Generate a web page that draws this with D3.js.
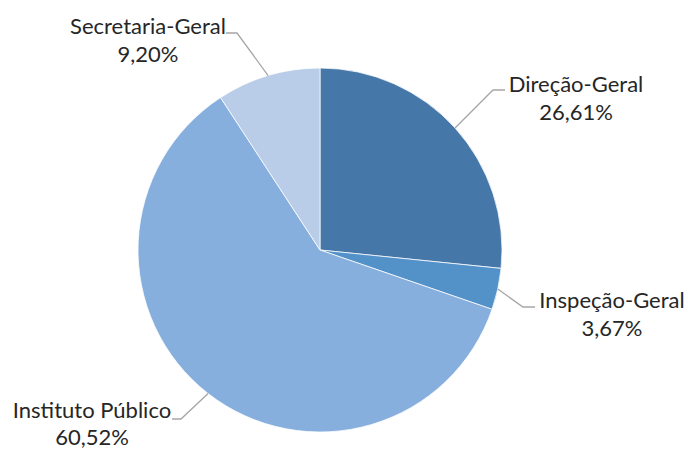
<!DOCTYPE html>
<html><head><meta charset="utf-8">
<script src="https://cdn.jsdelivr.net/npm/d3@7"></script>
<style>html,body{margin:0;padding:0;background:#fff;}svg{display:block;}</style>
</head><body>
<script>
const categories = ["Direção-Geral", "Inspeção-Geral", "Instituto Público", "Secretaria-Geral"];
const values = [26.61, 3.67, 60.52, 9.20];
const valueLabels = ["26,61%", "3,67%", "60,52%", "9,20%"];

const colors = ["#4677A9", "#5391C9", "#87AFDD", "#B9CDE8"];
// label layout: text centre x, first baseline y, line gap, elbow x, elbow y, horizontal end x
const labelLayout = [
  {cx: 576, by: 92, gap: 28, ex: 493, ey: 90, hx: 505},
  {cx: 612, by: 308, gap: 28, ex: 523, ey: 307, hx: 535},
  {cx: 92, by: 418, gap: 27, ex: 181, ey: 419, hx: 172},
  {cx: 148, by: 34, gap: 28, ex: 237, ey: 33, hx: 226}
];

const W = 688, H = 450, cx = 320, cy = 250, R = 182;
const svg = d3.select("body").append("svg").attr("width", W).attr("height", H);

const data = categories.map((c, i) => ({name: c, value: values[i], label: valueLabels[i], i}));
const pie = d3.pie().value(d => d.value).sort(null);
const arcs = pie(data);
const arc = d3.arc().innerRadius(0).outerRadius(R);

const g = svg.append("g").attr("transform", `translate(${cx},${cy})`);
g.selectAll("path").data(arcs).join("path")
  .attr("d", arc)
  .attr("fill", d => colors[d.data.i])
  .attr("stroke", "#fff").attr("stroke-width", 0.75);

// leader lines and labels
arcs.forEach(a => {
  const L = labelLayout[a.data.i];
  const mid = (a.startAngle + a.endAngle) / 2;
  const px = cx + R * Math.sin(mid), py = cy - R * Math.cos(mid);
  svg.append("polyline")
    .attr("points", `${px},${py} ${L.ex},${L.ey} ${L.hx},${L.ey}`)
    .attr("fill", "none").attr("stroke", "#A6A6A6").attr("stroke-width", 1.3);
  const t = svg.append("text").attr("text-anchor", "middle")
    .attr("font-family", "Lato, 'Open Sans', sans-serif").attr("font-size", 22)
    .attr("fill", "#262626");
  t.append("tspan").attr("x", L.cx).attr("y", L.by).text(a.data.name);
  t.append("tspan").attr("x", L.cx).attr("y", L.by + L.gap).text(a.data.label);
});
</script>
</body></html>
